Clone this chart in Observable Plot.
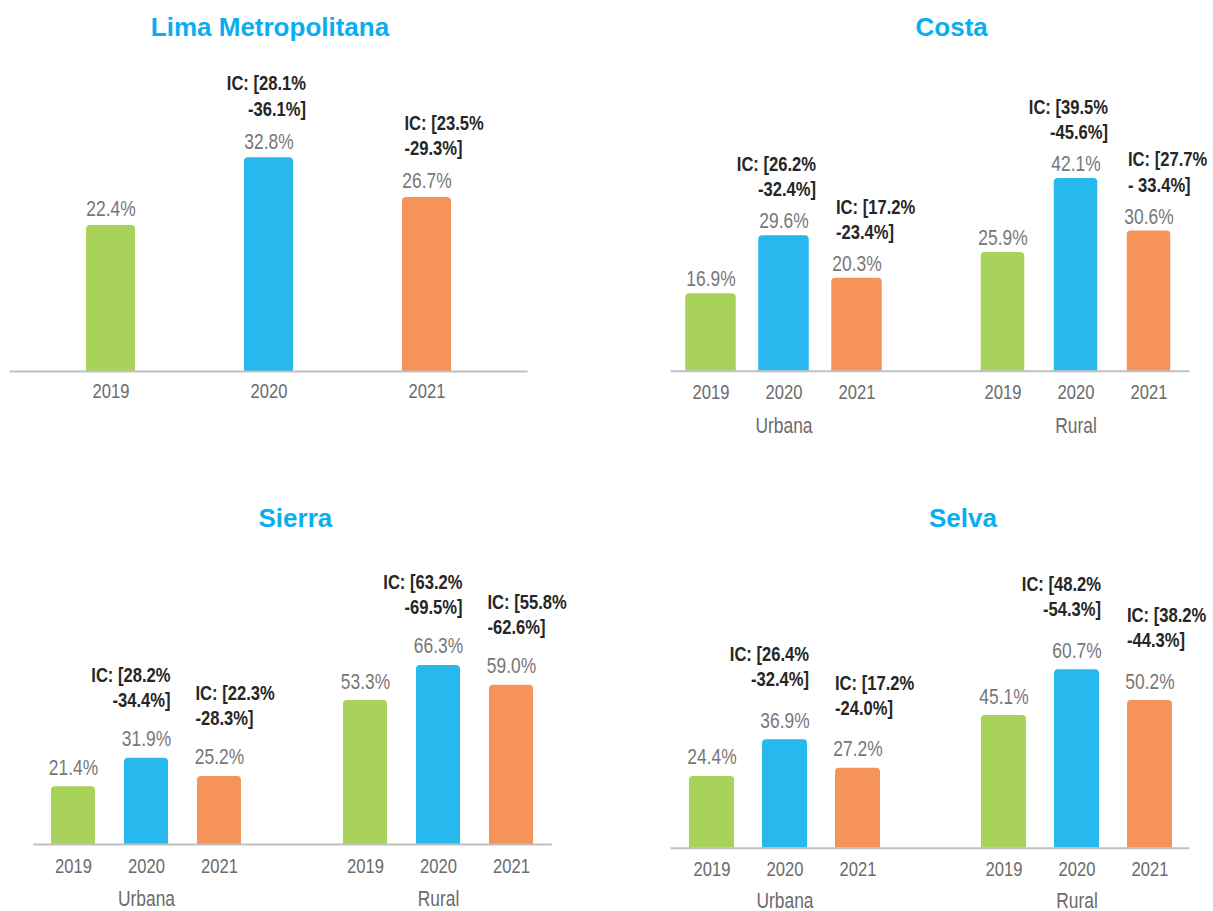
<!DOCTYPE html>
<html><head><meta charset="utf-8">
<script src="https://cdn.jsdelivr.net/npm/d3@7"></script>
<script src="https://cdn.jsdelivr.net/npm/@observablehq/plot@0.6"></script>
<style>
body{margin:0;background:#fff;}
#root{position:relative;width:1213px;height:911px;overflow:hidden;background:#fff;}
.panel{position:absolute;}
.panel svg{overflow:visible;}
.title{position:absolute;font-family:"Liberation Sans",Arial,sans-serif;font-weight:bold;font-size:26px;line-height:26px;color:#0AAEEF;white-space:nowrap;transform:translateX(-50%);}
</style></head><body><div id="root"></div>
<script>
// ---------- data ----------
const years = ["2019", "2020", "2021"];
const barColors = ["#A8D25A", "#27B9EE", "#F5935A"];
const groupNames = ["Urbana", "Rural"];
const titles = ["Lima Metropolitana", "Costa", "Sierra", "Selva"];

const limaValues = [22.4, 32.8, 26.7];
const limaIC = [null, "IC: [28.1%\n-36.1%]", "IC: [23.5%\n-29.3%]"];

const costaUrbana = [16.9, 29.6, 20.3];
const costaUrbanaIC = [null, "IC: [26.2%\n-32.4%]", "IC: [17.2%\n-23.4%]"];
const costaRural = [25.9, 42.1, 30.6];
const costaRuralIC = [null, "IC: [39.5%\n-45.6%]", "IC: [27.7%\n- 33.4%]"];

const sierraUrbana = [21.4, 31.9, 25.2];
const sierraUrbanaIC = [null, "IC: [28.2%\n-34.4%]", "IC: [22.3%\n-28.3%]"];
const sierraRural = [53.3, 66.3, 59.0];
const sierraRuralIC = [null, "IC: [63.2%\n-69.5%]", "IC: [55.8%\n-62.6%]"];

const selvaUrbana = [24.4, 36.9, 27.2];
const selvaUrbanaIC = [null, "IC: [26.4%\n-32.4%]", "IC: [17.2%\n-24.0%]"];
const selvaRural = [45.1, 60.7, 50.2];
const selvaRuralIC = [null, "IC: [48.2%\n-54.3%]", "IC: [38.2%\n-44.3%]"];

// ---------- build rows ----------
function rowsFor(group, values, ics) {
  return years.map((y, i) => ({group, year: y, key: group ? group + " " + y : y, value: values[i], ic: ics[i]}));
}
const panels = [
  {title: titles[0], rows: rowsFor(null, limaValues, limaIC), grouped: false,
   layout: {left: 0, top: 45, width: 606, height: 400, ml: 9.6, mr: 78.4, mb: 74, yMax: 45, k: 6.52,
            pi: 0.691, po: 0.48, vGap: 9, icGap: 33, dxEnd: 37, dxStart: -22.5, insetU: 0, insetR: 0, tickPad: 12,
            groupDy: 46, titleX: 270, titleTop: 13.7}},
  {title: titles[1], rows: [...rowsFor("Urbana", costaUrbana, costaUrbanaIC), ...rowsFor("Rural", costaRural, costaRuralIC)], grouped: true,
   layout: {left: 606, top: 45, width: 607, height: 400, ml: 64.5, mr: 23.5, mb: 74.3, yMax: 60, k: 4.58,
            pi: 0.356, po: 0.193, vGap: 7.5, icGap: 32, dxEnd: 32, dxStart: -21, insetU: -1.75, insetR: 1.75, tickPad: 13,
            groupDy: 46, titleX: 951.7, titleTop: 13.7}},
  {title: titles[2], rows: [...rowsFor("Urbana", sierraUrbana, sierraUrbanaIC), ...rowsFor("Rural", sierraRural, sierraRuralIC)], grouped: true,
   layout: {left: 0, top: 530, width: 606, height: 381, ml: 33.3, mr: 54.3, mb: 67, yMax: 100, k: 2.70,
            pi: 0.392, po: 0.2, vGap: 12, icGap: 39.5, dxEnd: 24, dxStart: -24, insetU: 0, insetR: 0, tickPad: 14,
            groupDy: 46, titleX: 295.4, titleTop: 505.3}},
  {title: titles[3], rows: [...rowsFor("Urbana", selvaUrbana, selvaUrbanaIC), ...rowsFor("Rural", selvaRural, selvaRuralIC)], grouped: true,
   layout: {left: 606, top: 530, width: 607, height: 381, ml: 64.5, mr: 23.5, mb: 63.3, yMax: 95, k: 2.94,
            pi: 0.39, po: 0.21, vGap: 12, icGap: 41.5, dxEnd: 24, dxStart: -23, insetU: 0, insetR: 0, tickPad: 12.5,
            groupDy: 44, titleX: 962.9, titleTop: 505.3}}
];

const FONT = '"Liberation Sans", Arial, sans-serif';
const SQUEEZE = 0.79; // condensed look: horizontal glyph compression
const root = document.getElementById("root");

for (const p of panels) {
  const L = p.layout;
  const domain = p.grouped
    ? [...years.map(y => groupNames[0] + " " + y), " ", ...years.map(y => groupNames[1] + " " + y)]
    : years;
  const ticks = domain.filter(d => d !== " ");
  const marginTop = L.height - L.mb - L.yMax * L.k;
  const barOpts = (inset) => ({x: "key", y: "value", fill: "year", rx: 4, insetBottom: -6, clip: true,
                               insetLeft: inset, insetRight: inset});
  const marks = [];
  if (p.grouped) {
    marks.push(Plot.barY(p.rows.filter(d => d.group === groupNames[0]), barOpts(L.insetU)));
    marks.push(Plot.barY(p.rows.filter(d => d.group === groupNames[1]), barOpts(L.insetR)));
  } else {
    marks.push(Plot.barY(p.rows, barOpts(0)));
  }
  marks.push(Plot.ruleY([0], {stroke: "#c0c0c0", strokeWidth: 2}));
  marks.push(Plot.text(p.rows, {x: "key", y: "value", text: d => d.value.toFixed(1) + "%",
    lineAnchor: "bottom", dy: -L.vGap, fill: "#777777", fontSize: 22}));
  marks.push(Plot.text(p.rows.filter(d => d.ic && d.year === years[1]), {x: "key", y: "value", text: "ic",
    lineAnchor: "bottom", textAnchor: "end", dx: L.dxEnd, dy: -(L.vGap + L.icGap), lineHeight: 1.2,
    fill: "#262626", fontWeight: "bold", fontSize: 21}));
  marks.push(Plot.text(p.rows.filter(d => d.ic && d.year === years[2]), {x: "key", y: "value", text: "ic",
    lineAnchor: "bottom", textAnchor: "start", dx: L.dxStart, dy: -(L.vGap + L.icGap), lineHeight: 1.2,
    fill: "#262626", fontWeight: "bold", fontSize: 21}));
  marks.push(Plot.axisX({ticks, tickFormat: d => d.split(" ").pop(), tickSize: 0, tickPadding: L.tickPad,
    fontSize: 21, fill: "#6b6b6b", color: "#6b6b6b"}));
  if (p.grouped) {
    marks.push(Plot.text(groupNames.map(g => ({label: g, key: g + " " + years[1]})), {x: "key", y: 0, text: "label",
      lineAnchor: "top", dy: L.groupDy, fill: "#6b6b6b", fontSize: 22}));
  }
  const svg = Plot.plot({
    width: L.width, height: L.height,
    marginLeft: L.ml, marginRight: L.mr, marginTop, marginBottom: L.mb,
    x: {domain, paddingInner: L.pi, paddingOuter: L.po, align: 0.5, label: null},
    y: {domain: [0, L.yMax], axis: null},
    color: {domain: years, range: barColors},
    style: {fontFamily: FONT, background: "transparent", overflow: "visible"},
    marks
  });
  // condense the glyphs horizontally around each text's own anchor point
  svg.querySelectorAll("text").forEach(t => {
    const tr = t.getAttribute("transform");
    if (tr) t.setAttribute("transform", tr + ` scale(${SQUEEZE},1)`);
  });
  const div = document.createElement("div");
  div.className = "panel";
  div.style.left = L.left + "px";
  div.style.top = L.top + "px";
  div.style.width = L.width + "px";
  div.style.height = L.height + "px";
  div.appendChild(svg);
  root.appendChild(div);

  const t = document.createElement("div");
  t.className = "title";
  t.textContent = p.title;
  t.style.left = L.titleX + "px";
  t.style.top = L.titleTop + "px";
  root.appendChild(t);
}
</script></body></html>
